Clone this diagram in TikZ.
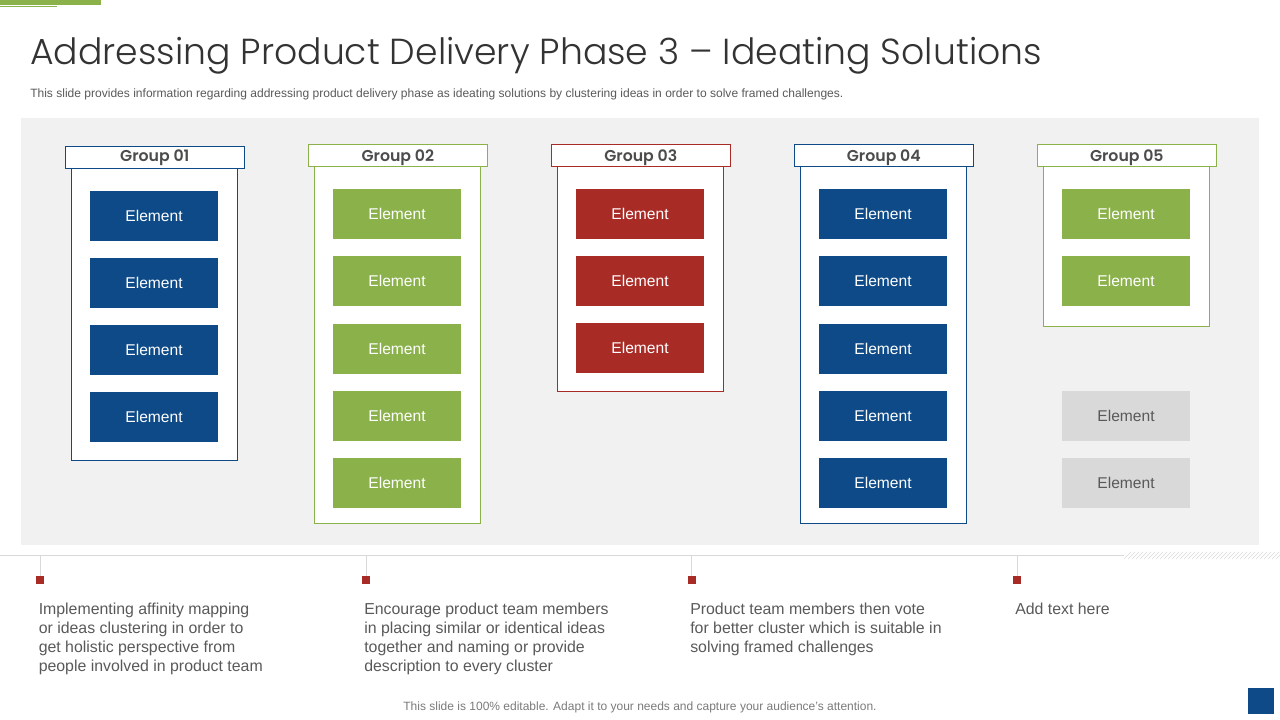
\documentclass[tikz,border=0pt]{standalone}
\usepackage{fontspec}
\setmainfont{Liberation Sans}
\newfontfamily\titlefont{Poppins Light}
\newfontfamily\groupfont{Poppins SemiBold}
\definecolor{slideblue}{HTML}{0D4A87}
\definecolor{slidegreen}{HTML}{8BB14B}
\definecolor{slidered}{HTML}{A92B26}
\definecolor{slidegrey}{HTML}{D9D9D9}
\definecolor{panelgrey}{HTML}{F1F1F1}
\definecolor{textgrey}{HTML}{595959}
\tikzset{
  element/.style={minimum width=96pt,minimum height=37.5pt,inner sep=0pt,font=\fontsize{11.7}{14}\selectfont},
  header/.style={minimum width=134pt,minimum height=16.5pt,inner sep=0pt,text height=8.5pt,fill=white,text=textgrey!85!black,font=\groupfont\fontsize{11.8}{14}\selectfont},
  frame/.style={fill=white,line width=0.75pt},
  note/.style={anchor=north west,align=left,inner sep=0pt,text=textgrey,font=\fontsize{11.9}{14.25}\selectfont},
  marker/.style={fill=slidered,minimum size=6pt,inner sep=0pt},
  tick/.style={draw=slidegrey,line width=0.75pt}
}
\begin{document}
\begin{tikzpicture}[x=0.75pt,y=-0.75pt]
\useasboundingbox (0,0) rectangle (1280,720);
\fill[slidegreen] (0,0) rectangle (101,5);
\draw[slidegreen,line width=0.75pt] (0,7) -- (57,7);
\node[anchor=base west,inner sep=0pt,text=black!80,font=\titlefont\fontsize{27.15}{32}\selectfont] (title) at (30,65) {Addressing Product Delivery Phase 3 – Ideating Solutions};
\node[anchor=base west,inner sep=0pt,text=textgrey,font=\fontsize{9.03}{11}\selectfont] (subtitle) at (30,97.2) {This slide provides information regarding addressing product delivery phase as ideating solutions by clustering ideas in order to solve framed challenges.};
\fill[panelgrey] (21,118) rectangle (1259,545);
% frames and headers
\foreach \n/\x/\top/\bot/\col/\dep in {1/154.5/168/460.5/slideblue/3,2/397.5/166/523.5/slidegreen/0,3/640.5/166/391.5/slidered/0,4/883.5/166/523.5/slideblue/0,5/1126.5/166/326.5/slidegreen/0}
{
\draw[frame,draw=\col] (\x-83.5,\top) rectangle (\x+83,\bot);
\node[header,text depth=\dep pt] (group\n) at (\x+0.3,\top-10.5) {Group 0\n};
\draw[\col,line width=0.75pt] (group\n.north west) rectangle (group\n.south east);
}
% elements
\foreach \n/\y in {1/216,2/283,3/350,4/417}
\node[element,fill=slideblue,text=white] (a\n) at (154,\y) {Element};
\foreach \n/\y in {1/214,2/281,3/348.7,4/415.5,5/482.5}
\node[element,fill=slidegreen,text=white] (b\n) at (397,\y) {Element};
\foreach \n/\y in {1/214,2/281,3/348}
\node[element,fill=slidered,text=white] (c\n) at (640,\y) {Element};
\foreach \n/\y in {1/214,2/281,3/348.7,4/415.5,5/482.5}
\node[element,fill=slideblue,text=white] (d\n) at (883,\y) {Element};
\foreach \n/\y in {1/214,2/281}
\node[element,fill=slidegreen,text=white] (e\n) at (1126,\y) {Element};
\foreach \n/\y in {3/415.5,4/482.5}
\node[element,fill=slidegrey,text=textgrey] (e\n) at (1126,\y) {Element};
% rule with hatched end
\draw[slidegrey,line width=0.75pt] (0,555.5) -- (1124,555.5);
\foreach \x in {1124,1128,...,1276}
\draw[slidegrey,line width=0.4pt] (\x,559) -- (\x+7,552);
% markers with their ticks
\foreach \n/\x in {1/40,2/366,3/691.5,4/1017}
{
\node[marker] (mark\n) at (\x,580) {};
\coordinate (top\n) at (\x,555.5);
\draw[tick] (top\n) -- (mark\n);
}
% notes
\node[note] (note1) at (38.5,602.5) {Implementing affinity mapping\\or ideas clustering in order to\\get holistic perspective from\\people involved in product team};
\node[note] (note2) at (364,602.5) {Encourage product team members\\in placing similar or identical ideas\\together and naming or provide\\description to every cluster};
\node[note] (note3) at (690,602.5) {Product team members then vote\\for better cluster which is suitable in\\solving framed challenges};
\node[note] (note4) at (1015,602.5) {Add text here};
\node[inner sep=0pt,text=textgrey!80,font=\fontsize{9}{11}\selectfont] (footer) at (640,707) {This slide is 100\% editable. Adapt it to your needs and capture your audience's attention.};
\fill[slideblue] (1248,688) rectangle (1274,714);
\end{tikzpicture}
\end{document}
